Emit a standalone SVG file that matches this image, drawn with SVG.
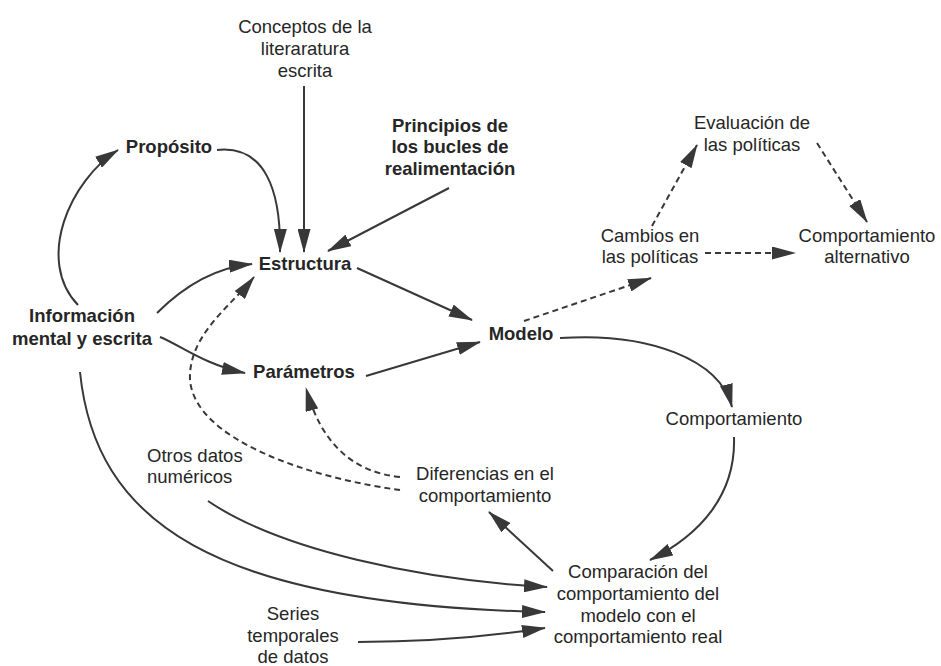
<svg xmlns="http://www.w3.org/2000/svg" width="941" height="666" viewBox="0 0 941 666">
<defs>
<style>
text{font-family:"Liberation Sans",Arial,sans-serif;font-size:18.5px;fill:#262626;text-anchor:middle}
.b{font-weight:bold}
.l{text-anchor:start}
.c{fill:none;stroke:#383838;stroke-width:2}
.s{marker-end:url(#ah)}
.d{stroke-dasharray:6 4;marker-end:url(#ah)}
</style>
<marker id="ah" markerUnits="userSpaceOnUse" markerWidth="24" markerHeight="13" viewBox="0 0 24 13" refX="23" refY="6.5" orient="auto">
<path d="M0,0 L24,6.5 L0,13 z" fill="#383838"/>
</marker>
</defs>
<rect width="941" height="666" fill="#ffffff"/>
<g id="connectors">
<path class="c s" d="M78,305 C35,260 70,180 118,150"/>
<path class="c s" d="M217,150 C265,145 281,190 280,252"/>
<path class="c s" d="M304,86 L304,252"/>
<path class="c s" d="M449,188 L328,251"/>
<path class="c s" d="M157,313 C180,290 210,268 252,264"/>
<path class="c s" d="M160,337 C180,345 205,365 245,373"/>
<path class="c s" d="M357,268 L472,320"/>
<path class="c s" d="M366,376 L480,342"/>
<path class="c s" d="M560,338 C650,332 720,360 732,407"/>
<path class="c s" d="M734,437 C736,495 700,535 650,560"/>
<path class="c s" d="M553,571 L489,512"/>
<path class="c s" d="M208,501 C280,550 420,580 547,587"/>
<path class="c s" d="M80,372 C95,520 210,605 545,612"/>
<path class="c s" d="M358,642 C420,642 480,638 545,628"/>
<path class="c d" d="M400,490 C310,478 195,440 190,380 C188,335 232,305 254,277"/>
<path class="c d" d="M400,477 C350,472 320,440 306,388"/>
<path class="c d" d="M524,321 L651,278"/>
<path class="c d" d="M705,253 L795,253"/>
<path class="c d" d="M652,226 L697,145"/>
<path class="c d" d="M817,143 L867,222"/>
</g>
<g id="conceptos"><text x="305" y="33">Conceptos de la</text><text x="305" y="55">literaratura</text><text x="305" y="77">escrita</text></g>
<g id="proposito"><text class="b" x="169" y="153">Propósito</text></g>
<g id="principios"><text class="b" x="450" y="132">Principios de</text><text class="b" x="450" y="153">los bucles de</text><text class="b" x="450" y="175">realimentación</text></g>
<g id="estructura"><text class="b" x="305" y="270">Estructura</text></g>
<g id="informacion"><text class="b" x="82" y="322">Información</text><text class="b" x="82" y="345">mental y escrita</text></g>
<g id="parametros"><text class="b" x="304" y="378">Parámetros</text></g>
<g id="modelo"><text class="b" x="521" y="340">Modelo</text></g>
<g id="evaluacion"><text x="752" y="129">Evaluación de</text><text x="752" y="151">las políticas</text></g>
<g id="cambios"><text x="650" y="242">Cambios en</text><text x="650" y="263">las políticas</text></g>
<g id="alternativo"><text x="867" y="242">Comportamiento</text><text x="867" y="263">alternativo</text></g>
<g id="comportamiento"><text x="734" y="425">Comportamiento</text></g>
<g id="diferencias"><text x="485" y="480">Diferencias en el</text><text x="485" y="502">comportamiento</text></g>
<g id="otros"><text class="l" x="147" y="462">Otros datos</text><text class="l" x="147" y="483">numéricos</text></g>
<g id="series"><text x="293" y="620">Series</text><text x="293" y="642">temporales</text><text x="293" y="663">de datos</text></g>
<g id="comparacion"><text x="638" y="578">Comparación del</text><text x="638" y="600">comportamiento del</text><text x="638" y="622">modelo con el</text><text x="638" y="643">comportamiento real</text></g>
</svg>
